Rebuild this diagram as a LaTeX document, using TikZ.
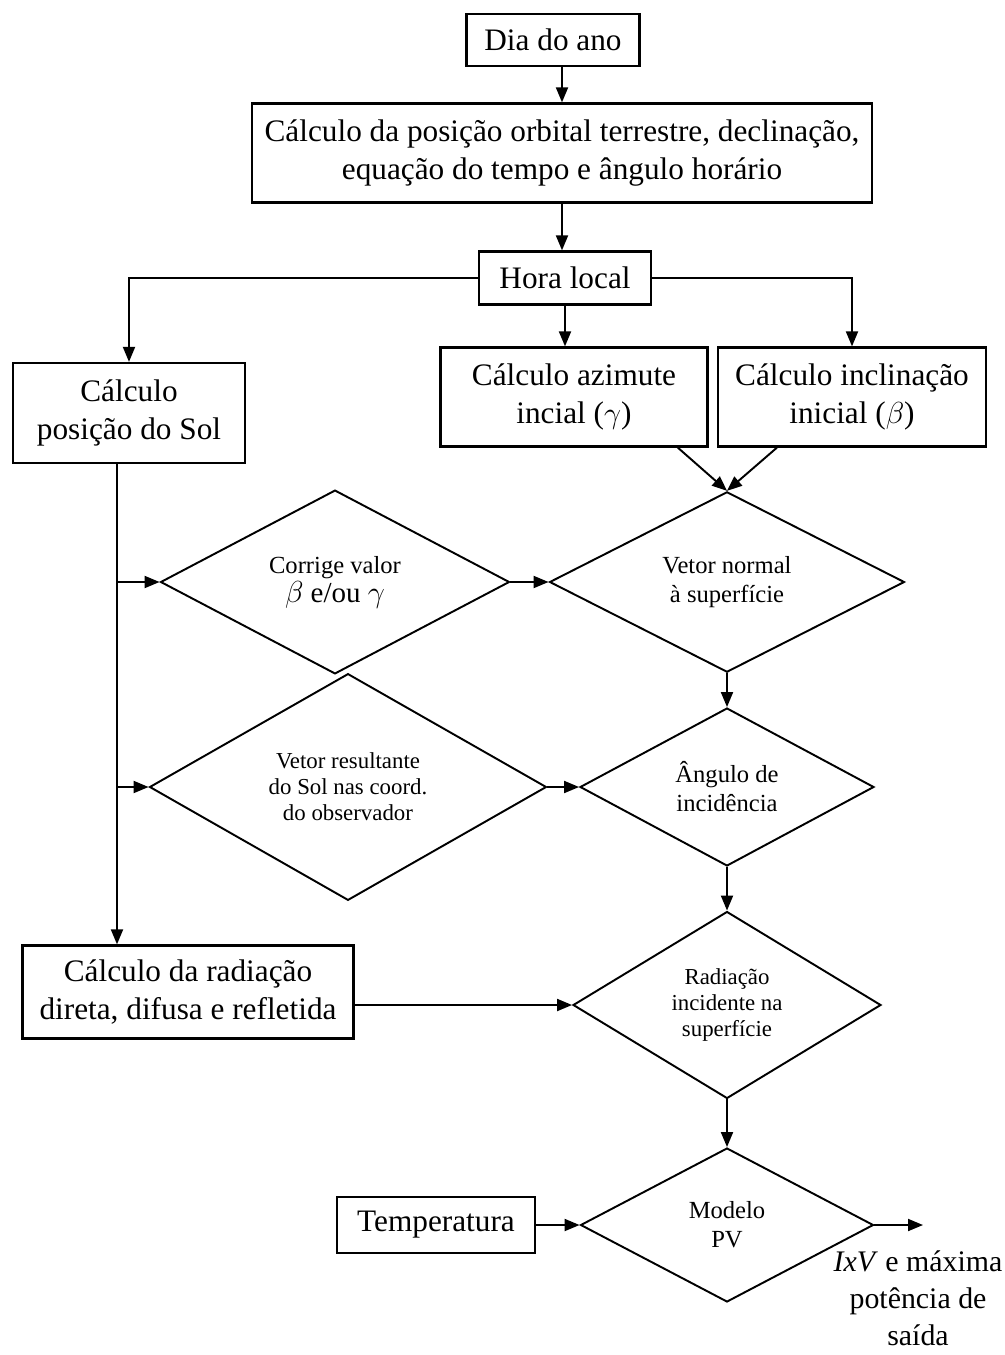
\documentclass[tikz,border=0pt]{standalone}
\usepackage{fontspec}
\setmainfont{Liberation Serif}
\usepackage{amsmath}
\usetikzlibrary{arrows.meta,shapes.geometric}

\tikzset{
  bloco/.style={draw, rectangle, line width=1.3pt, align=center, inner sep=0pt,
    font=\fontsize{17.8}{21.6}\selectfont},
  decisao/.style={draw, diamond, line width=1.1pt, align=center, inner sep=0pt,
    font=\fontsize{14}{16.5}\selectfont},
  seta/.style={line width=1.1pt, -{Triangle[length=0.3cm,width=0.24cm]}}
}

\begin{document}
\begin{tikzpicture}[x=0.02cm, y=-0.02cm]
                        \useasboundingbox (0,0) rectangle (1004,1355);
                        \node[bloco, minimum width=3.46cm, minimum height=1.04cm]
                        (dia) at (553,40) {Dia do ano};
                        \node[bloco, minimum width=12.4cm, minimum height=1.98cm]
                        (orbita) at (562,153)
                        {Cálculo da posição orbital terrestre, declinação,\\equação do tempo e ângulo horário};
                        \node[bloco, minimum width=3.44cm, minimum height=1.06cm]
                        (hora) at (565,278) {Hora local};
                        \node[bloco, minimum width=4.64cm, minimum height=2cm]
                        (sol) at (129,413) {Cálculo\\posição do Sol};
                        \node[bloco, minimum width=5.34cm, minimum height=1.98cm]
                        (azimute) at (574,397) {Cálculo azimute\\incial ($\gamma$)};
                        \node[bloco, minimum width=5.36cm, minimum height=1.98cm]
                        (inclina) at (852,397) {Cálculo inclinação\\inicial ($\beta$)};
                        \node[decisao, minimum width=6.98cm, minimum height=3.22cm]
                        (corrige) at (335,582)
                        {Corrige valor\\{\fontsize{16.5}{18}\selectfont $\beta$ e/ou $\gamma$}};
                        \node[decisao, minimum width=7.1cm, minimum height=3.28cm]
                        (normal) at (727,582) {Vetor normal\\à superfície};
                        \node[decisao, minimum width=7.94cm, minimum height=3.84cm,
                        font=\fontsize{13}{14.8}\selectfont]
                        (resultante) at (348,787)
                        {Vetor resultante\\do Sol nas coord.\\do observador};
                        \node[decisao, minimum width=5.88cm, minimum height=3.16cm]
                        (angulo) at (727,787) {Ângulo de\\incidência};
                        \node[bloco, minimum width=6.62cm, minimum height=1.86cm]
                        (radiacao) at (188,992)
                        {Cálculo da radiação\\direta, difusa e refletida};
                        \node[decisao, minimum width=6.16cm, minimum height=3.74cm,
                        font=\fontsize{13}{14.8}\selectfont]
                        (incidente) at (727,1005) {Radiação\\incidente na\\superfície};
                        \node[decisao, minimum width=5.86cm, minimum height=3.08cm]
                        (modelo) at (727,1225) {Modelo\\PV};
                        \node[bloco, minimum width=3.96cm, minimum height=1.12cm]
                        (temp) at (436,1225) {Temperatura};
                        \node[align=center, inner sep=0pt, font=\fontsize{17}{21}\selectfont]
                        (saida) at (918,1298) {\textit{IxV} e máxima\\potência de\\saída};
                        \coordinate (tronco) at (117,463);
                        \coordinate (fim) at (923,1225);
                        \draw[seta] (dia.south -| orbita.north) -- (orbita.north);
                        \draw[seta] (orbita.south) -- (orbita.south |- hora.north);
                        \draw[seta] (hora.west) -| (sol.north);
                        \draw[seta] (hora.south) -- (hora.south |- azimute.north);
                        \draw[seta] (hora.east) -| (inclina.north);
                        \draw[seta] (azimute.-26) -- (normal.north);
                        \draw[seta] (inclina.-146) -- (normal.north);
                        \draw[seta] (tronco) -- (tronco |- radiacao.north);
                        \draw[seta] (tronco |- corrige.west) -- (corrige.west);
                        \draw[seta] (tronco |- resultante.west) -- (resultante.west);
                        \draw[seta] (corrige.east) -- (normal.west);
                        \draw[seta] (normal.south) -- (angulo.north);
                        \draw[seta] (resultante.east) -- (angulo.west);
                        \draw[seta] (angulo.south) -- (incidente.north);
                        \draw[seta] (radiacao.east |- incidente.west) -- (incidente.west);
                        \draw[seta] (incidente.south) -- (modelo.north);
                        \draw[seta] (temp.east) -- (modelo.west);
                        \draw[seta] (modelo.east) -- (fim);
                    \end{tikzpicture}
\end{document}
